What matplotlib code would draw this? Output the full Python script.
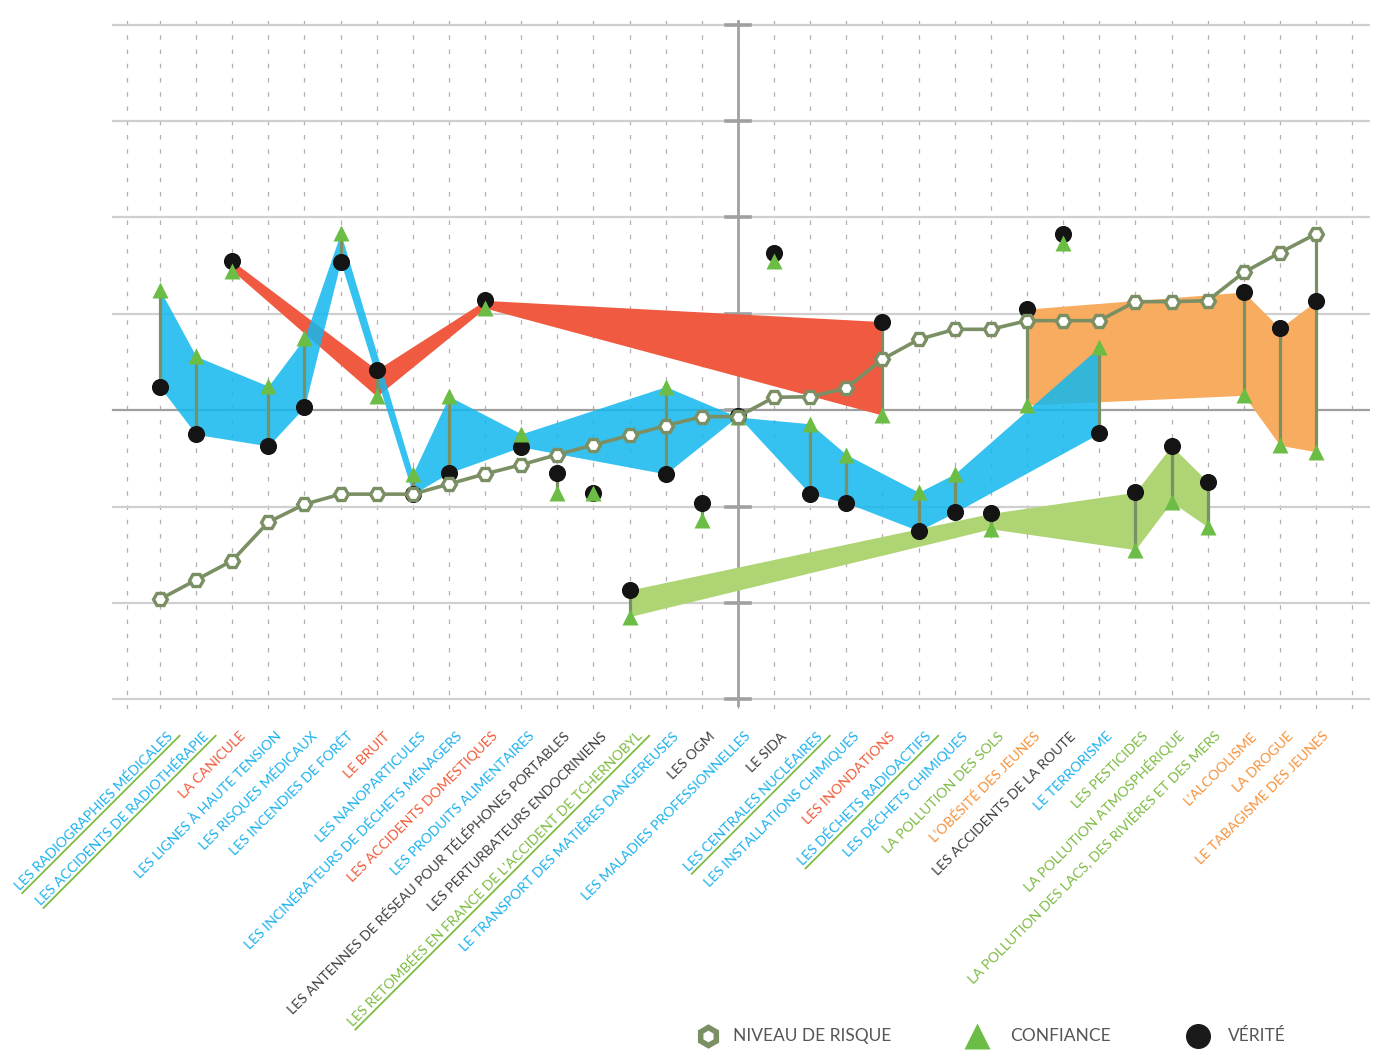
import numpy as np
import matplotlib.pyplot as plt
from matplotlib.lines import Line2D

plt.rcParams['font.family'] = ['Lato', 'DejaVu Sans']

# categories, in chart order (left to right)
labels = [
    "LES RADIOGRAPHIES MÉDICALES", "LES ACCIDENTS DE RADIOTHÉRAPIE", "LA CANICULE",
    "LES LIGNES À HAUTE TENSION", "LES RISQUES MÉDICAUX", "LES INCENDIES DE FORÊT",
    "LE BRUIT", "LES NANOPARTICULES", "LES INCINÉRATEURS DE DÉCHETS MÉNAGERS",
    "LES ACCIDENTS DOMESTIQUES", "LES PRODUITS ALIMENTAIRES",
    "LES ANTENNES DE RÉSEAU POUR TÉLÉPHONES PORTABLES", "LES PERTURBATEURS ENDOCRINIENS",
    "LES RETOMBÉES EN FRANCE DE L’ACCIDENT DE TCHERNOBYL",
    "LE TRANSPORT DES MATIÈRES DANGEREUSES", "LES OGM", "LES MALADIES PROFESSIONNELLES",
    "LE SIDA", "LES CENTRALES NUCLÉAIRES", "LES INSTALLATIONS CHIMIQUES", "LES INONDATIONS",
    "LES DÉCHETS RADIOACTIFS", "LES DÉCHETS CHIMIQUES", "LA POLLUTION DES SOLS",
    "L’OBÉSITÉ DES JEUNES", "LES ACCIDENTS DE LA ROUTE", "LE TERRORISME", "LES PESTICIDES",
    "LA POLLUTION ATMOSPHÉRIQUE", "LA POLLUTION DES LACS, DES RIVIÈRES ET DES MERS",
    "L’ALCOOLISME", "LA DROGUE", "LE TABAGISME DES JEUNES",
]
# colour family of each category (b blue, r red, g green, o orange, k none)
groups = ["b", "b", "r", "b", "b", "b", "r", "b", "b", "r", "b", "k", "k", "g", "b", "k",
          "b", "k", "b", "b", "r", "b", "b", "g", "o", "k", "b", "g", "g", "g", "o", "o", "o"]
underlined = [0, 1, 13, 18, 21]

risk = [-1.96, -1.76, -1.56, -1.16, -0.975, -0.87, -0.87, -0.87, -0.765, -0.66, -0.565,
        -0.46, -0.36, -0.26, -0.16, -0.066, -0.066, 0.135, 0.14, 0.23, 0.53, 0.735, 0.84,
        0.84, 0.93, 0.93, 0.93, 1.127, 1.127, 1.137, 1.43, 1.635, 1.83]
confiance = [1.25, 0.56, 1.45, 0.25, 0.75, 1.84, 0.145, -0.66, 0.145, 1.06, -0.245, -0.86,
             -0.86, -2.14, 0.245, -1.135, -0.07, 1.55, -0.14, -0.46, -0.05, -0.85, -0.66,
             -1.23, 0.055, 1.735, 0.657, -1.446, -0.95, -1.21, 0.155, -0.363, -0.43]
verite = [0.24, -0.25, 1.55, -0.37, 0.034, 1.54, 0.42, -0.87, -0.65, 1.14, -0.38, -0.65,
          -0.86, -1.865, -0.66, -0.96, -0.06, 1.63, -0.87, -0.96, 0.92, -1.25, -1.06, -1.07,
          1.05, 1.83, -0.24, -0.85, -0.37, -0.74, 1.227, 0.85, 1.134]

label_colors = {"b": "#1db1ec", "r": "#f15a3a", "g": "#7dbb42", "o": "#f5923a", "k": "#404040"}
fill_colors = {"b": "#14b8ee", "r": "#f05a40", "g": "#afd474", "o": "#f8ac60"}
stem_c = "#7b8f64"
grid_c = "#cfcfcf"
axis_c = "#a0a0a0"

x = np.arange(len(labels))
risk = np.array(risk)
conf = np.array(confiance)
ver = np.array(verite)

fig = plt.figure(figsize=(13.87, 10.5), dpi=100)
ax = fig.add_axes([109.4 / 1387, 1 - 709.1 / 1050, 1260.8 / 1387, 692.1 / 1050])
ax.set_xlim(-1.4, 33.5)
ax.set_ylim(-3.1, 4.08)
ax.axis("off")

# grid
for xv in [-0.9] + list(range(0, 34)):
    ax.plot([xv, xv], [-3.1, 4.08], color="#b5adb5", lw=0.9, dashes=(3.6, 7.8), zorder=0)
for v in range(-3, 5):
    ax.plot([-1.3, 33.5], [v, v], color=axis_c if v == 0 else grid_c, lw=1.6, zorder=0.5)
ax.plot([16, 16], [-3.06, 4.04], color=axis_c, lw=2, zorder=0.6)
for v in range(-3, 5):
    ax.plot([15.68, 16.32], [v, v], color=axis_c, lw=2.6, zorder=0.6)

# bands between confiance and vérité, per colour family
for key, z, a in [("g", 1.0, 1.0), ("o", 1.1, 1.0), ("r", 1.2, 1.0), ("b", 1.5, 0.86)]:
    idx = [i for i, g in enumerate(groups) if g == key]
    ax.fill_between(x[idx], conf[idx], ver[idx], color=fill_colors[key], alpha=a,
                    lw=0, zorder=z)

# stems
ax.vlines(x, np.minimum(conf, ver), np.maximum(conf, ver), color=stem_c, lw=2.3, zorder=3)
ax.vlines(x[-1], ver[-1], risk[-1], color=stem_c, lw=2.3, zorder=3)

ax.plot(x, ver, "o", ms=11.3, color="#141414", zorder=4)
ax.plot(x, conf, "^", ms=12, color="#6cbd45", mec="none", zorder=5)
ax.plot(x, risk, "-", color=stem_c, lw=2.6, marker="H", ms=10, mfc="white",
        mec=stem_c, mew=2.4, zorder=6)

# category labels
fs = 10.1
for i, lab in enumerate(labels):
    ax.text(i + 0.38, -3.39, lab, rotation=45, rotation_mode="anchor", ha="right",
            va="baseline", color=label_colors[groups[i]], fontsize=fs, clip_on=False)

# underline some labels (green rule parallel to the text)
fig.canvas.draw()
renderer = fig.canvas.get_renderer()
th = np.deg2rad(45)
inv = fig.transFigure.inverted()
for i in underlined:
    tmp = fig.text(0, 0, labels[i], fontsize=fs)
    w = tmp.get_window_extent(renderer).width
    tmp.remove()
    px, py = ax.transData.transform((i + 0.38, -3.39))
    d = -3.2
    pts = []
    for u in (-w, 5):
        pts.append((px + u * np.cos(th) - d * np.sin(th), py + u * np.sin(th) + d * np.cos(th)))
    pts = inv.transform(pts)
    fig.add_artist(Line2D(pts[:, 0], pts[:, 1], transform=fig.transFigure,
                          color=label_colors["g"], lw=1.3))

# legend
ly = 1 - 1036 / 1050
fig.add_artist(Line2D([708 / 1387], [ly], marker="h", ms=13, mfc="white", mec=stem_c,
                      mew=4, transform=fig.transFigure))
fig.text(733 / 1387, ly, "NIVEAU DE RISQUE", va="center", ha="left", fontsize=12.5,
         color="#555555")
fig.add_artist(Line2D([977 / 1387], [ly], marker="^", ms=19, color="#6cbd45", mec="none",
                      transform=fig.transFigure))
fig.text(1010 / 1387, ly, "CONFIANCE", va="center", ha="left", fontsize=12.5, color="#555555")
fig.add_artist(Line2D([1198 / 1387], [ly], marker="o", ms=17, color="#1a1a1a",
                      transform=fig.transFigure))
fig.text(1228 / 1387, ly, "VÉRITÉ", va="center", ha="left", fontsize=12.5, color="#555555")

fig.savefig("out.png", dpi=100)
